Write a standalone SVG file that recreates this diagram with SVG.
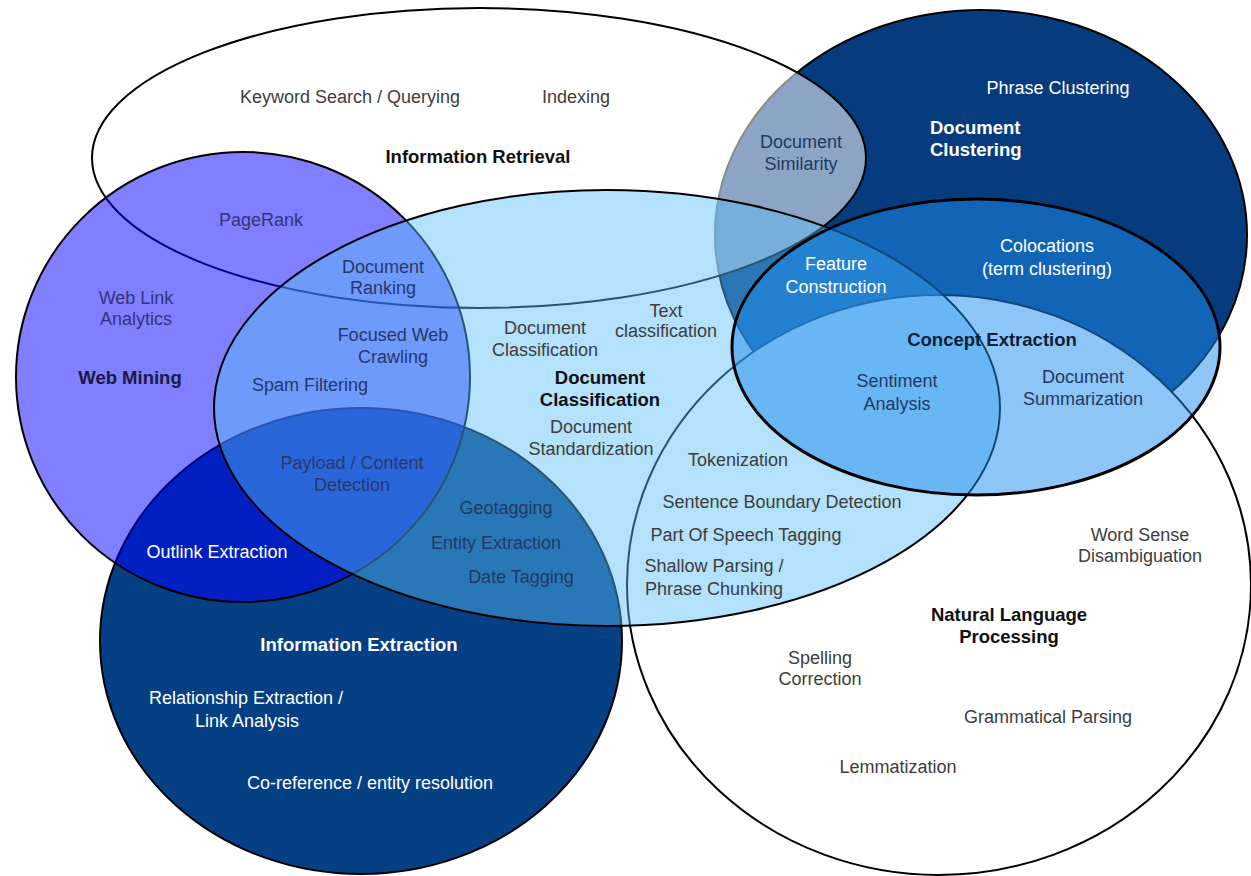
<svg xmlns="http://www.w3.org/2000/svg" width="1251" height="876" viewBox="0 0 1251 876">
<style>
text { font-family: "Liberation Sans", Arial, sans-serif; font-size: 18px; text-anchor: middle; fill: #3d3d3d; }
.b { font-weight: bold; font-size: 18.5px; fill: #111; }
.w { fill: #fff; }
.p { fill: #34347c; }
.m { fill: #26386a; }
.s { fill: #1f3a62; }
.set { stroke: #000; stroke-width: 2; }
</style>
<rect width="1251" height="876" fill="#fff"/>
<g id="sets">
<g id="document-clustering"><ellipse class="set" cx="981" cy="235" rx="266" ry="225" fill="#063c7e"/></g>
<g id="information-retrieval"><ellipse class="set" cx="479" cy="158" rx="387" ry="150" fill="#fff" fill-opacity="0.54"/></g>
<g id="natural-language-processing"><ellipse class="set" cx="939" cy="585" rx="312" ry="290" fill="#fff"/></g>
<g id="information-extraction"><ellipse class="set" cx="361" cy="641" rx="261" ry="233" fill="#053f84"/></g>
<g id="web-mining"><ellipse class="set" cx="243" cy="377" rx="227" ry="225" fill="#0000ff" fill-opacity="0.5"/></g>
<g id="document-classification"><ellipse class="set" cx="607" cy="408" rx="393" ry="218" fill="#59bdf7" fill-opacity="0.45"/></g>
<g id="concept-extraction"><ellipse cx="976" cy="347" rx="244" ry="148" fill="#1e8cf0" fill-opacity="0.5" stroke="#000" stroke-width="3"/></g>
</g>
<g id="labels">
<g id="ir-labels">
<text x="350" y="103">Keyword Search / Querying</text>
<text x="576" y="103">Indexing</text>
<text class="b" x="478" y="163">Information Retrieval</text>
<text class="s" x="801" y="148">Document</text>
<text class="s" x="801" y="170">Similarity</text>
</g>
<g id="dcl-labels">
<text class="b w" x="930" y="134" style="text-anchor:start">Document</text>
<text class="b w" x="930" y="156" style="text-anchor:start">Clustering</text>
<text class="w" x="1058" y="94">Phrase Clustering</text>
</g>
<g id="wm-labels">
<text class="p" x="261" y="226">PageRank</text>
<text class="p" x="136" y="304">Web Link</text>
<text class="p" x="136" y="325">Analytics</text>
<text class="b" x="130" y="384" style="fill:#1a1a44">Web Mining</text>
<text class="m" x="383" y="273">Document</text>
<text class="m" x="383" y="294">Ranking</text>
<text class="m" x="393" y="341">Focused Web</text>
<text class="m" x="393" y="363">Crawling</text>
<text class="m" x="310" y="391">Spam Filtering</text>
<text class="m" x="352" y="469">Payload / Content</text>
<text class="m" x="352" y="491">Detection</text>
<text class="w" x="217" y="558">Outlink Extraction</text>
</g>
<g id="ie-labels">
<text class="s" x="506" y="514">Geotagging</text>
<text class="s" x="496" y="549">Entity Extraction</text>
<text class="s" x="521" y="583">Date Tagging</text>
<text class="b w" x="359" y="651">Information Extraction</text>
<text class="w" x="246" y="704">Relationship Extraction /</text>
<text class="w" x="247" y="727">Link Analysis</text>
<text class="w" x="370" y="789">Co-reference / entity resolution</text>
</g>
<g id="dc-labels">
<text x="545" y="334">Document</text>
<text x="545" y="356">Classification</text>
<text x="666" y="317">Text</text>
<text x="666" y="337">classification</text>
<text class="b" x="600" y="384">Document</text>
<text class="b" x="600" y="406">Classification</text>
<text x="591" y="433">Document</text>
<text x="591" y="455">Standardization</text>
</g>
<g id="ce-labels">
<text class="w" x="836" y="270">Feature</text>
<text class="w" x="836" y="293">Construction</text>
<text class="w" x="1047" y="252">Colocations</text>
<text class="w" x="1047" y="275">(term clustering)</text>
<text class="b" x="992" y="346" style="fill:#0e1e38">Concept Extraction</text>
<text class="s" x="897" y="387">Sentiment</text>
<text class="s" x="897" y="410">Analysis</text>
<text class="s" x="1083" y="383">Document</text>
<text class="s" x="1083" y="405">Summarization</text>
</g>
<g id="nlp-labels">
<text x="738" y="466">Tokenization</text>
<text x="782" y="508">Sentence Boundary Detection</text>
<text x="746" y="541">Part Of Speech Tagging</text>
<text x="714" y="572">Shallow Parsing /</text>
<text x="714" y="595">Phrase Chunking</text>
<text x="1140" y="541">Word Sense</text>
<text x="1140" y="562">Disambiguation</text>
<text class="b" x="1009" y="621">Natural Language</text>
<text class="b" x="1009" y="643">Processing</text>
<text x="820" y="664">Spelling</text>
<text x="820" y="685">Correction</text>
<text x="1048" y="723">Grammatical Parsing</text>
<text x="898" y="773">Lemmatization</text>
</g>
</g>
</svg>
